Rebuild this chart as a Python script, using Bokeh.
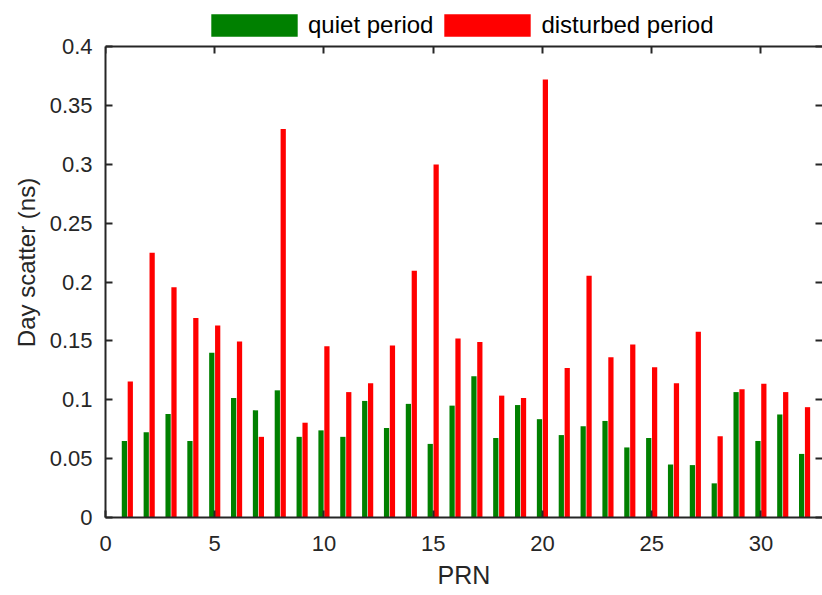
from bokeh.plotting import figure
from bokeh.models import (ColumnDataSource, Range1d, LinearAxis, FixedTicker,
                          Legend, LegendItem, CustomJSTickFormatter)
from bokeh.transform import dodge
from bokeh.embed import file_html
from bokeh.resources import INLINE

prn = list(range(1, 33))
quiet = [0.065, 0.0725, 0.088, 0.065, 0.140, 0.1015, 0.091, 0.108, 0.0685, 0.074,
         0.0685, 0.099, 0.076, 0.0965, 0.0625, 0.095, 0.120, 0.0675, 0.0955, 0.0835,
         0.070, 0.0775, 0.082, 0.0595, 0.0675, 0.045, 0.0445, 0.029, 0.1065, 0.065,
         0.0875, 0.054]
disturbed = [0.1155, 0.2248, 0.1956, 0.1695, 0.163, 0.1495, 0.0685, 0.330, 0.0805, 0.1455,
             0.1065, 0.114, 0.146, 0.2095, 0.2998, 0.152, 0.149, 0.1035, 0.1015, 0.372,
             0.127, 0.2053, 0.136, 0.147, 0.1277, 0.114, 0.1577, 0.069, 0.109, 0.1135,
             0.1065, 0.0937]
x_ticks = [0, 5, 10, 15, 20, 25, 30]
y_ticks = [0, 0.05, 0.1, 0.15, 0.2, 0.25, 0.3, 0.35, 0.4]
y_tick_labels = ["0", "0.05", "0.1", "0.15", "0.2", "0.25", "0.3", "0.35", "0.4"]
series_names = ["quiet period", "disturbed period"]
colors = ["#008000", "#ff0000"]

Y_MAX = 0.4           # top of the axes box
FONT = "Liberation Sans"
AX = "#262626"
TICK_FS = "22px"
LABEL_FS = "24px"

# frame runs from 7px to 517px; the axes box top (0.4) sits at 46px,
# leaving room inside the frame for the legend strip
FRAME_H = 510
BOX_H = 471
y_end = Y_MAX * FRAME_H / BOX_H

src = ColumnDataSource(dict(prn=prn, quiet=quiet, disturbed=disturbed))

p = figure(width=822, height=595, output_backend="svg", toolbar_location=None,
           x_range=Range1d(0, 32.82), y_range=Range1d(0, y_end),
           min_border_left=105, min_border_right=0, min_border_top=7,
           min_border_bottom=78, outline_line_color=None,
           background_fill_color="white", border_fill_color="white")
p.grid.visible = False

r1 = p.vbar(x=dodge("prn", -0.135, range=p.x_range), top="quiet", width=0.24,
            source=src, fill_color=colors[0], line_color=None)
r2 = p.vbar(x=dodge("prn", 0.135, range=p.x_range), top="disturbed", width=0.24,
            source=src, fill_color=colors[1], line_color=None)

def style(ax):
    ax.axis_line_color = AX
    ax.axis_line_width = 2
    ax.major_tick_line_color = AX
    ax.major_tick_line_width = 2
    ax.major_tick_in = 7
    ax.major_tick_out = 0
    ax.minor_tick_line_color = None
    ax.major_label_text_font = FONT
    ax.major_label_text_font_size = TICK_FS
    ax.major_label_text_color = AX
    ax.axis_label_text_font = FONT
    ax.axis_label_text_font_size = LABEL_FS
    ax.axis_label_text_font_style = "normal"
    ax.axis_label_text_color = AX

xa = p.xaxis[0]
style(xa)
xa.ticker = FixedTicker(ticks=x_ticks)
xa.axis_label = "PRN"
xa.axis_label_text_font_size = "25px"
xa.major_label_standoff = 18
xa.axis_label_standoff = 7

ya = p.yaxis[0]
style(ya)
ya.ticker = FixedTicker(ticks=y_ticks)
ya.major_label_overrides = {t: l for t, l in zip(y_ticks, y_tick_labels)}
ya.bounds = (0, Y_MAX)
ya.axis_label = "Day scatter (ns)"
ya.major_label_standoff = 13
ya.axis_label_standoff = 7

blank = CustomJSTickFormatter(code="return '';")

top = LinearAxis(ticker=FixedTicker(ticks=x_ticks), formatter=blank,
                 fixed_location=Y_MAX)
style(top)
top.major_label_text_font_size = "1px"
top.major_label_standoff = 0
p.add_layout(top, "above")

right = LinearAxis(ticker=FixedTicker(ticks=y_ticks), formatter=blank)
style(right)
right.major_label_text_font_size = "1px"
right.axis_line_color = None
right.major_label_standoff = 0
p.add_layout(right, "right")

legend = Legend(items=[LegendItem(label=series_names[0], renderers=[r1]),
                       LegendItem(label=series_names[1], renderers=[r2])],
                orientation="horizontal", location=(95, 478),
                glyph_width=108, glyph_height=28, label_height=23,
                label_standoff=-4, spacing=-9,
                padding=1, margin=0, border_line_color=None,
                background_fill_alpha=0,
                label_text_font=FONT, label_text_font_size=LABEL_FS,
                label_text_color="black")
p.add_layout(legend)

open("out.html", "w").write(file_html(p, INLINE))
